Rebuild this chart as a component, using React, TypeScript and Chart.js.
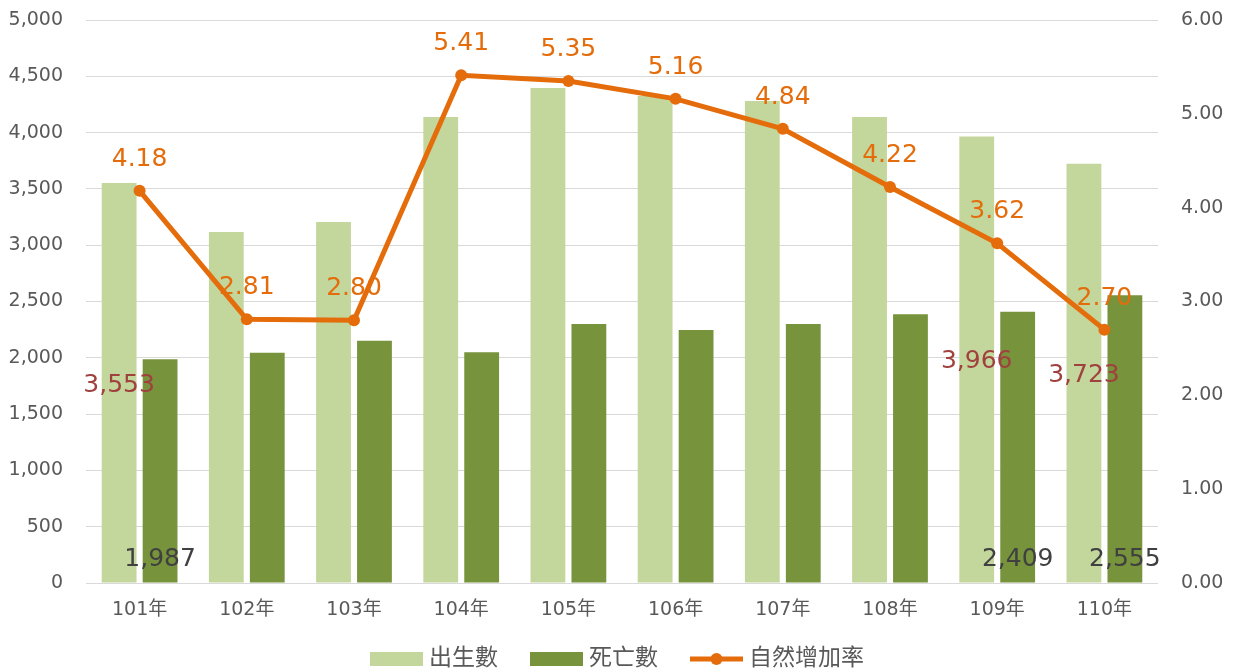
import React, { useEffect, useRef } from "react";
import { Chart, registerables } from "chart.js";

Chart.register(...registerables);

const FONT = "'DejaVu Sans', 'Noto Sans CJK TC', sans-serif";

const categories = ["101年", "102年", "103年", "104年", "105年", "106年", "107年", "108年", "109年", "110年"];
const births = [3553, 3117, 3206, 4139, 4396, 4325, 4281, 4139, 3966, 3723];
const deaths = [1987, 2045, 2152, 2050, 2300, 2247, 2300, 2386, 2409, 2555];
const rates = [4.18, 2.81, 2.8, 5.41, 5.35, 5.16, 4.84, 4.22, 3.62, 2.7];
const seriesNames = ["出生數", "死亡數", "自然增加率"];
const birthLabelIndexes = [0, 8, 9];
const deathLabelIndexes = [0, 8, 9];
const leftMax = 5000;
const leftStep = 500;
const rightMax = 6;
const rightStep = 1;

const LIGHT = "#C3D69B";
const DARK = "#77933C";
const ORANGE = "#E46C0A";
const TICK = "#595959";

const fmt = (v: number) => v.toLocaleString("en-US");

const valueLabels = {
  id: "valueLabels",
  afterDatasetsDraw(chart: any) {
    const ctx = chart.ctx;
    ctx.save();
    ctx.font = `25px ${FONT}`;
    ctx.textAlign = "center";
    ctx.textBaseline = "alphabetic";
    const bMeta = chart.getDatasetMeta(0);
    ctx.fillStyle = "#A0413F";
    birthLabelIndexes.forEach((i) => {
      const el = bMeta.data[i];
      ctx.fillText(fmt(births[i]), el.x, (el.y + el.base) / 2 + 9);
    });
    const dMeta = chart.getDatasetMeta(1);
    ctx.fillStyle = "#404040";
    deathLabelIndexes.forEach((i) => {
      const el = dMeta.data[i];
      ctx.fillText(fmt(deaths[i]), el.x, el.base - 17);
    });
    const lMeta = chart.getDatasetMeta(2);
    ctx.fillStyle = ORANGE;
    lMeta.data.forEach((el: any, i: number) => {
      ctx.fillText(rates[i].toFixed(2), el.x, el.y - 25);
    });
    ctx.restore();
  },
};

const customLegend = {
  id: "customLegend",
  afterDraw(chart: any) {
    const ctx = chart.ctx;
    ctx.save();
    ctx.font = `23px ${FONT}`;
    ctx.textBaseline = "middle";
    ctx.textAlign = "left";
    const boxW = 53;
    const boxH = 14;
    const gap = 6;
    const itemGap = 32;
    const items = chart.data.datasets.map((ds: any) => ({
      label: ds.label as string,
      isLine: ds.type === "line",
      color: ds.type === "line" ? ds.borderColor : ds.backgroundColor,
      w: ctx.measureText(ds.label).width,
    }));
    const total =
      items.reduce((s: number, it: any) => s + boxW + gap + it.w, 0) + itemGap * (items.length - 1);
    let x = (chart.width - total) / 2;
    const y = 659;
    items.forEach((it: any) => {
      if (it.isLine) {
        ctx.strokeStyle = it.color;
        ctx.lineWidth = 5;
        ctx.beginPath();
        ctx.moveTo(x, y);
        ctx.lineTo(x + boxW, y);
        ctx.stroke();
        ctx.fillStyle = it.color;
        ctx.beginPath();
        ctx.arc(x + boxW / 2, y, 6, 0, Math.PI * 2);
        ctx.fill();
      } else {
        ctx.fillStyle = it.color;
        ctx.fillRect(x, y - boxH / 2, boxW, boxH);
      }
      ctx.fillStyle = TICK;
      ctx.fillText(it.label, x + boxW + gap, y);
      x += boxW + gap + it.w + itemGap;
    });
    ctx.restore();
  },
};

export default function App() {
  const ref = useRef<HTMLCanvasElement>(null);
  useEffect(() => {
    if (!ref.current) return;
    const chart = new Chart(ref.current, {
      type: "bar",
      data: {
        labels: categories,
        datasets: [
          {
            type: "bar",
            label: seriesNames[0],
            data: births,
            backgroundColor: LIGHT,
            yAxisID: "y",
            order: 1,
            categoryPercentage: 0.764,
            barPercentage: 0.85,
          } as any,
          {
            type: "bar",
            label: seriesNames[1],
            data: deaths,
            backgroundColor: DARK,
            yAxisID: "y",
            order: 1,
            categoryPercentage: 0.764,
            barPercentage: 0.85,
          } as any,
          {
            type: "line",
            label: seriesNames[2],
            data: rates,
            borderColor: ORANGE,
            backgroundColor: ORANGE,
            borderWidth: 5,
            pointRadius: 6,
            pointBackgroundColor: ORANGE,
            pointBorderWidth: 0,
            tension: 0,
            yAxisID: "y1",
            order: 0,
          } as any,
        ],
      },
      options: {
        responsive: false,
        animation: false,
        devicePixelRatio: 1,
        layout: { padding: { top: 20, left: 0, right: 0, bottom: 0 } },
        plugins: {
          legend: { display: false },
          tooltip: { enabled: false },
        },
        scales: {
          x: {
            grid: { display: false },
            border: { display: false },
            ticks: { color: TICK, font: { family: FONT, size: 19 }, padding: 8 },
            afterFit: (s: any) => {
              s.height = 88;
              s.paddingLeft = 0;
              s.paddingRight = 0;
            },
          },
          y: {
            position: "left",
            min: 0,
            max: leftMax,
            grid: { color: "#D9D9D9", drawTicks: false, lineWidth: 1 },
            border: { display: false },
            ticks: {
              stepSize: leftStep,
              color: TICK,
              font: { family: FONT, size: 19 },
              padding: 23,
              callback: (v: any) => fmt(Number(v)),
            },
            afterFit: (s: any) => {
              s.width = 86;
              s.paddingTop = 0;
              s.paddingBottom = 0;
            },
          },
          y1: {
            position: "right",
            min: 0,
            max: rightMax,
            grid: { display: false, drawTicks: false },
            border: { display: false },
            ticks: {
              stepSize: rightStep,
              color: TICK,
              font: { family: FONT, size: 19 },
              padding: 23,
              callback: (v: any) => Number(v).toFixed(2),
            },
            afterFit: (s: any) => {
              s.width = 76;
              s.paddingTop = 0;
              s.paddingBottom = 0;
            },
          },
        },
      } as any,
      plugins: [valueLabels, customLegend],
    });
    return () => chart.destroy();
  }, []);
  return (
    <div style={{ position: "absolute", left: 0, top: 0, width: 1234, height: 671, background: "#fff" }}>
      <canvas ref={ref} width={1234} height={671} style={{ display: "block" }} />
    </div>
  );
}
